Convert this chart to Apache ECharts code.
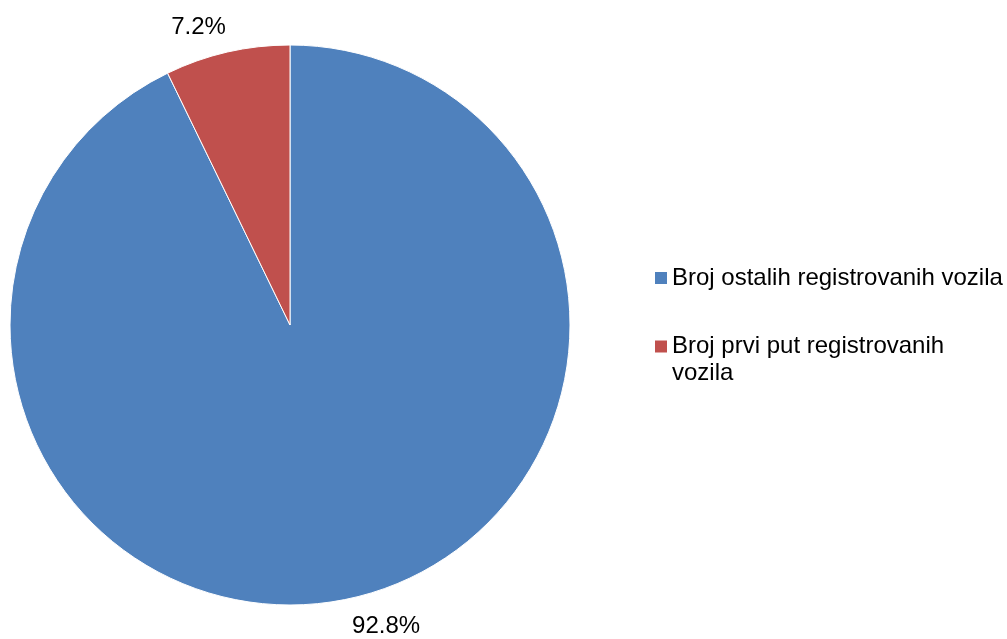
<!DOCTYPE html>
<html>
<head>
<meta charset="utf-8">
<script src="https://cdn.jsdelivr.net/npm/echarts@6/dist/echarts.min.js"></script>
<style>
html,body{margin:0;padding:0;background:#fff;}
#chart{width:1007px;height:639px;}
</style>
</head>
<body>
<div id="chart"></div>
<script>
const categories = ['Broj ostalih registrovanih vozila', 'Broj prvi put registrovanih vozila'];
const values = [92.8, 7.2];
const colors = ['#4F81BD', '#C0504D'];

const FONT = 'Arial, "Liberation Sans", sans-serif';
// icon paths: square aligned to first text line inside a 12x54 item box
const iconSingle = 'path://M0,0M0,21L12,21L12,33L0,33ZM12,54';
const iconDouble = 'path://M0,0M0,7.5L12,7.5L12,19.5L0,19.5ZM12,54';
// small nudges of the outside labels (style only)
const labelNudges = [[-12, 1], [10, 3]];

const chart = echarts.init(document.getElementById('chart'), null, {renderer: 'canvas'});
chart.setOption({
  backgroundColor: '#fff',
  animation: false,
  color: colors,
  legend: {
    orient: 'vertical',
    left: 655,
    top: 251,
    itemWidth: 12,
    itemHeight: 54,
    itemGap: 28,
    padding: 0,
    selectedMode: false,
    itemStyle: {borderWidth: 0},
    data: [
      {name: categories[0], icon: iconSingle},
      {name: categories[1], icon: iconDouble}
    ],
    textStyle: {
      fontFamily: FONT,
      fontSize: 24,
      color: '#000',
      lineHeight: 27,
      width: 332,
      overflow: 'break'
    }
  },
  series: [{
    type: 'pie',
    center: [290, 325],
    radius: 280,
    startAngle: 90,
    clockwise: true,
    avoidLabelOverlap: false,
    itemStyle: {borderColor: '#fff', borderWidth: 1},
    label: {
      show: true,
      position: 'outside',
      formatter: p => p.value.toFixed(1) + '%',
      fontFamily: FONT,
      fontSize: 24,
      color: '#000'
    },
    labelLine: {show: false, length: 28, length2: 0},
    emphasis: {disabled: true},
    data: categories.map((c, i) => ({name: c, value: values[i], label: {offset: labelNudges[i]}}))
  }]
});
</script>
</body>
</html>
